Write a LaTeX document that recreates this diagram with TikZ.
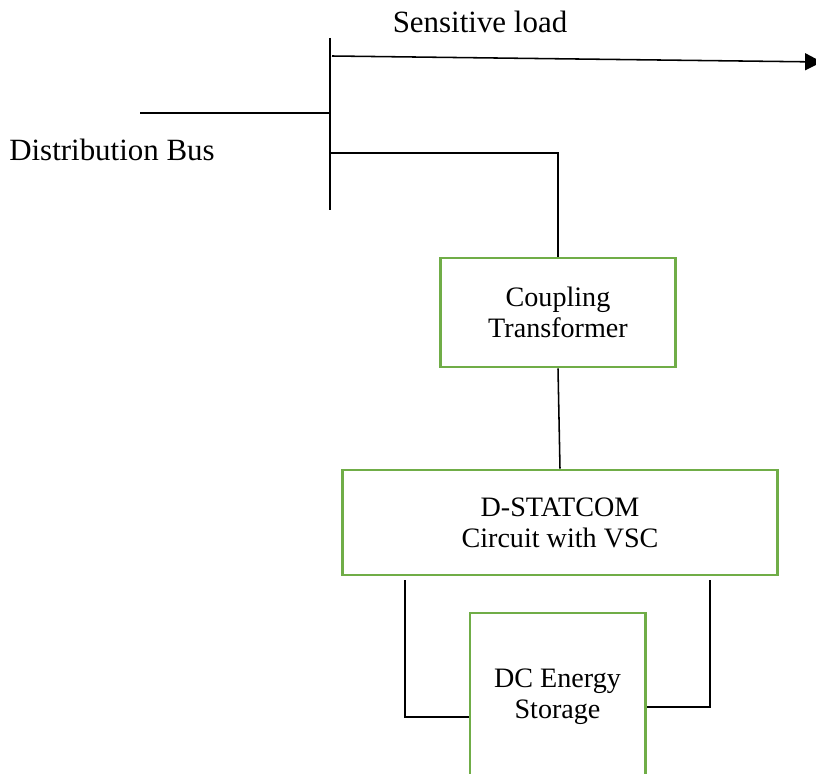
\documentclass[tikz,border=0pt]{standalone}
\usepackage{fontspec}
\setmainfont{Liberation Serif}
\newfontfamily\diagfont{Liberation Serif}
\usetikzlibrary{arrows.meta}

\begin{document}
\begin{tikzpicture}[x=0.025cm,y=-0.025cm,
    block/.style={draw={rgb,255:red,112;green,173;blue,71},
        line width=2.1pt, align=center, inner sep=0pt,
        font=\diagfont\fontsize{20}{22}\selectfont},
    wire/.style={line width=1.1pt},
    tag/.style={font=\diagfont\fontsize{22}{24}\selectfont}]
            \useasboundingbox (0,0) rectangle (816,774);
            \clip (0,0) rectangle (816,774);

            \coordinate (bustop) at (330,38);
            \coordinate (busbot) at (330,210);
            \coordinate (feed) at (140,113);
            \coordinate (loadend) at (822,62);

            \node[tag] (load) at (480,22) {Sensitive load};
            \node[tag] (bus) at (112,150) {Distribution Bus};

            \node[block, minimum width=5.85cm, minimum height=2.725cm] (coup) at (558,312.5) {Coupling\\Transformer};
            \node[block, minimum width=10.85cm, minimum height=2.625cm] (dstat) at (560,522.5) {D-STATCOM\\Circuit with VSC};
            \node[block, minimum width=4.375cm, minimum height=4.2cm] (dcst) at (557.5,697) {DC Energy\\Storage};

            \draw[wire] (bustop) -- (busbot);
            \draw[wire] (feed) -- (feed -| bustop);
            \draw[wire, -{Triangle[length=12pt,width=12pt]}] (332,56) -- (loadend);
            \draw[wire] (330,153) -| (coup.north);
            \draw[wire] (coup.south) -- (dstat.north);
            \draw[wire] (405,580) -- (405,717) -- (dcst.west |- 0,717);
            \draw[wire] (710,580) -- (710,707) -- (dcst.east |- 0,707);
        \end{tikzpicture}
\end{document}
